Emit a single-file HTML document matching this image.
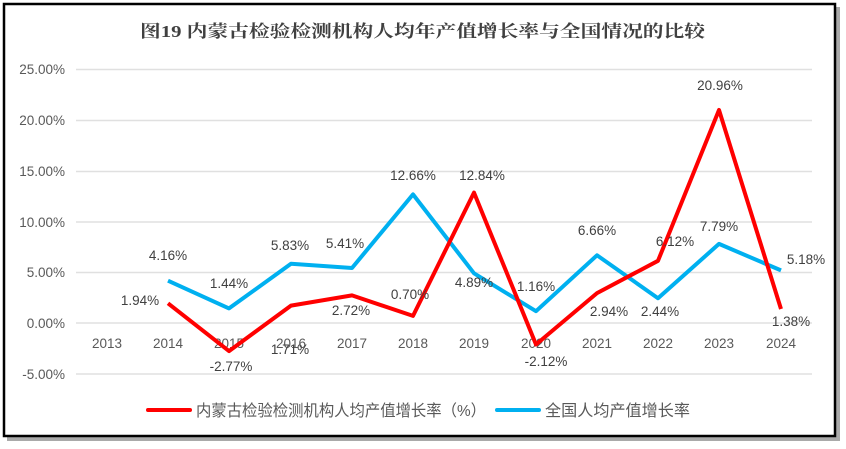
<!DOCTYPE html>
<html><head><meta charset="utf-8"><style>
body{margin:0;background:#fff;}
svg{display:block;font-family:"Liberation Sans","Noto Sans CJK SC",sans-serif;}
.t{font-family:"Liberation Serif","Noto Serif CJK SC",serif;}
</style></head><body>
<svg width="846" height="449" viewBox="0 0 846 449" xmlns="http://www.w3.org/2000/svg">
<rect x="0" y="0" width="846" height="449" fill="#fff"/>
<rect x="7" y="7" width="833" height="434" fill="#aaa"/>
<rect x="4" y="4" width="831" height="432" fill="#fff" stroke="#000" stroke-width="2.5"/>
<text class="t" x="140" y="37" font-size="17" font-weight="bold" fill="#404040" textLength="565" lengthAdjust="spacingAndGlyphs">图19  内蒙古检验检测机构人均年产值增长率与全国情况的比较</text>
<g stroke="#e0e0e0" stroke-width="1.5">
<line x1="76" x2="812" y1="69.5" y2="69.5"/><line x1="76" x2="812" y1="120.5" y2="120.5"/>
<line x1="76" x2="812" y1="171.5" y2="171.5"/><line x1="76" x2="812" y1="222" y2="222"/>
<line x1="76" x2="812" y1="272.5" y2="272.5"/><line x1="76" x2="812" y1="323" y2="323"/>
<line x1="76" x2="812" y1="374" y2="374"/>
</g>
<g font-size="13.5" fill="#595959" text-anchor="end">
<text x="65" y="74">25.00%</text><text x="65" y="125">20.00%</text><text x="65" y="176">15.00%</text>
<text x="65" y="227">10.00%</text><text x="65" y="277">5.00%</text><text x="65" y="328">0.00%</text>
<text x="65" y="379">-5.00%</text>
</g>
<g font-size="13.5" fill="#595959" text-anchor="middle">
<text x="107" y="348">2013</text><text x="168" y="348">2014</text><text x="229" y="348">2015</text>
<text x="291" y="348">2016</text><text x="352" y="348">2017</text><text x="413" y="348">2018</text>
<text x="474" y="348">2019</text><text x="536" y="348">2020</text><text x="597" y="348">2021</text>
<text x="658" y="348">2022</text><text x="719" y="348">2023</text><text x="781" y="348">2024</text>
</g>
<polyline fill="none" stroke="#00b0f0" stroke-width="4" stroke-linejoin="round" points="168,280.7 229,308.4 291,263.8 352,268.0 413,194.4 474,273.3 536,311.2 597,255.3 658,298.2 719,243.9 781,270.4"/>
<polyline fill="none" stroke="#ff0000" stroke-width="4" stroke-linejoin="round" points="168,303.3 229,351.1 291,305.6 352,295.4 413,315.9 474,192.6 536,344.5 597,293.1 658,260.8 719,110.0 781,309.0"/>
<g font-size="13.5" fill="#404040" text-anchor="middle">
<text x="140" y="305">1.94%</text><text x="231" y="371">-2.77%</text><text x="290" y="354">1.71%</text>
<text x="351" y="315">2.72%</text><text x="410" y="299">0.70%</text><text x="482" y="180">12.84%</text>
<text x="546" y="366">-2.12%</text><text x="609" y="316">2.94%</text><text x="675" y="246">6.12%</text>
<text x="720" y="90">20.96%</text><text x="791" y="326">1.38%</text>
<text x="168" y="260">4.16%</text><text x="229" y="288">1.44%</text><text x="290" y="250">5.83%</text>
<text x="345" y="248">5.41%</text><text x="413" y="180">12.66%</text><text x="474" y="287">4.89%</text>
<text x="536" y="291">1.16%</text><text x="597" y="235">6.66%</text><text x="660" y="316">2.44%</text>
<text x="719" y="231">7.79%</text><text x="806" y="264">5.18%</text>
</g>
<line x1="148" x2="190" y1="410" y2="410" stroke="#ff0000" stroke-width="4" stroke-linecap="round"/>
<text x="196" y="416" font-size="16" fill="#595959" textLength="290" lengthAdjust="spacingAndGlyphs">内蒙古检验检测机构人均产值增长率（%）</text>
<line x1="497" x2="539" y1="410" y2="410" stroke="#00b0f0" stroke-width="4" stroke-linecap="round"/>
<text x="545" y="416" font-size="16" fill="#595959" textLength="145" lengthAdjust="spacingAndGlyphs">全国人均产值增长率</text>
</svg>
</body></html>
